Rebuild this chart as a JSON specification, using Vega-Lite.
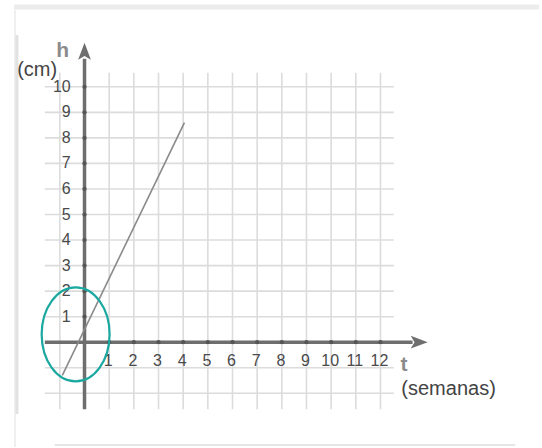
{
  "$schema": "https://vega.github.io/schema/vega-lite/v6.json",
  "width": 542,
  "height": 448,
  "padding": 0,
  "autosize": {"type": "fit", "contains": "padding"},
  "background": "white",
  "view": {"stroke": null},
  "config": {"font": "Liberation Sans"},
  "datasets": {
    "frame": [
      {"t": -2.86, "t2": 18.43, "h": 13.12, "h2": 13.12, "w": 5, "c": "#ececec"},
      {"t": -2.82, "t2": -2.82, "h": 13.0, "h2": -4.1, "w": 2, "c": "#efefef"},
      {"t": -2.74, "t2": -2.74, "h": 12.03, "h2": -2.81, "w": 3, "c": "#e2e2e2"},
      {"t": -1.21, "t2": 17.46, "h": -4.02, "h2": -4.02, "w": 2, "c": "#e6e6e6"}
    ],
    "vgrid": [
      {"t": -1, "h": -2.62, "h2": 10.55},
      {"t": 1, "h": -2.62, "h2": 10.55},
      {"t": 2, "h": -2.62, "h2": 10.55},
      {"t": 3, "h": -2.62, "h2": 10.55},
      {"t": 4, "h": -2.62, "h2": 10.55},
      {"t": 5, "h": -2.62, "h2": 10.55},
      {"t": 6, "h": -2.62, "h2": 10.55},
      {"t": 7, "h": -2.62, "h2": 10.55},
      {"t": 8, "h": -2.62, "h2": 10.55},
      {"t": 9, "h": -2.62, "h2": 10.55},
      {"t": 10, "h": -2.62, "h2": 10.55},
      {"t": 11, "h": -2.62, "h2": 10.55},
      {"t": 12, "h": -2.62, "h2": 10.55}
    ],
    "hgrid": [
      {"h": -2, "t": -1.61, "t2": 12.54},
      {"h": -1, "t": -1.61, "t2": 12.54},
      {"h": 1, "t": -1.61, "t2": 12.54},
      {"h": 2, "t": -1.61, "t2": 12.54},
      {"h": 3, "t": -1.61, "t2": 12.54},
      {"h": 4, "t": -1.61, "t2": 12.54},
      {"h": 5, "t": -1.61, "t2": 12.54},
      {"h": 6, "t": -1.61, "t2": 12.54},
      {"h": 7, "t": -1.61, "t2": 12.54},
      {"h": 8, "t": -1.61, "t2": 12.54},
      {"h": 9, "t": -1.61, "t2": 12.54},
      {"h": 10, "t": -1.61, "t2": 12.54}
    ],
    "axes": [
      {"t": -1.61, "t2": 13.3, "h": 0, "h2": 0},
      {"t": 0, "t2": 0, "h": -2.62, "h2": 11.1}
    ],
    "arrows": [
      {"t": 0, "h": 11.39, "a": 0},
      {"t": 13.57, "h": 0, "a": 90}
    ],
    "tickdots": [
      {"t": 1, "h": 0}, {"t": 2, "h": 0}, {"t": 3, "h": 0}, {"t": 4, "h": 0},
      {"t": 5, "h": 0}, {"t": 6, "h": 0}, {"t": 7, "h": 0}, {"t": 8, "h": 0},
      {"t": 9, "h": 0}, {"t": 10, "h": 0}, {"t": 11, "h": 0}, {"t": 12, "h": 0},
      {"t": 0, "h": 1}, {"t": 0, "h": 2}, {"t": 0, "h": 3}, {"t": 0, "h": 4},
      {"t": 0, "h": 5}, {"t": 0, "h": 6}, {"t": 0, "h": 7}, {"t": 0, "h": 8},
      {"t": 0, "h": 9}, {"t": 0, "h": 10}
    ],
    "xlabels": [
      {"t": 1, "h": -0.74, "label": "1"}, {"t": 2, "h": -0.74, "label": "2"},
      {"t": 3, "h": -0.74, "label": "3"}, {"t": 4, "h": -0.74, "label": "4"},
      {"t": 5, "h": -0.74, "label": "5"}, {"t": 6, "h": -0.74, "label": "6"},
      {"t": 7, "h": -0.74, "label": "7"}, {"t": 8, "h": -0.74, "label": "8"},
      {"t": 9, "h": -0.74, "label": "9"}, {"t": 10, "h": -0.74, "label": "10"},
      {"t": 11, "h": -0.74, "label": "11"}, {"t": 12, "h": -0.74, "label": "12"}
    ],
    "ylabels": [
      {"t": -0.56, "h": 1, "label": "1"}, {"t": -0.56, "h": 2, "label": "2"},
      {"t": -0.56, "h": 3, "label": "3"}, {"t": -0.56, "h": 4, "label": "4"},
      {"t": -0.56, "h": 5, "label": "5"}, {"t": -0.56, "h": 6, "label": "6"},
      {"t": -0.56, "h": 7, "label": "7"}, {"t": -0.56, "h": 8, "label": "8"},
      {"t": -0.56, "h": 9, "label": "9"}, {"t": -0.56, "h": 10, "label": "10"}
    ],
    "growth": [
      {"t": -0.9, "h": -1.3},
      {"t": 4.05, "h": 8.6}
    ],
    "highlight": [
      {"t": -0.36, "h": 0.31}
    ],
    "varnames": [
      {"t": -0.89, "h": 11.4, "label": "h"},
      {"t": 12.95, "h": -0.9, "label": "t"}
    ],
    "units": [
      {"t": -1.92, "h": 10.67, "label": "(cm)"},
      {"t": 14.76, "h": -1.84, "label": "(semanas)"}
    ]
  },
  "layer": [
    {
      "data": {"name": "frame"},
      "mark": {"type": "rule"},
      "encoding": {
        "x": {"field": "t", "type": "quantitative", "scale": {"domain": [-3.427, 18.427], "nice": false, "zero": false}, "axis": null},
        "x2": {"field": "t2"},
        "y": {"field": "h", "type": "quantitative", "scale": {"domain": [-4.102, 13.398], "nice": false, "zero": false}, "axis": null},
        "y2": {"field": "h2"},
        "color": {"field": "c", "type": "nominal", "scale": null, "legend": null},
        "strokeWidth": {"field": "w", "type": "quantitative", "scale": null, "legend": null}
      }
    },
    {
      "data": {"name": "vgrid"},
      "mark": {"type": "rule", "color": "#dcdcdc", "strokeWidth": 1.6},
      "encoding": {
        "x": {"field": "t", "type": "quantitative"},
        "y": {"field": "h", "type": "quantitative"},
        "y2": {"field": "h2"}
      }
    },
    {
      "data": {"name": "hgrid"},
      "mark": {"type": "rule", "color": "#dcdcdc", "strokeWidth": 1.6},
      "encoding": {
        "x": {"field": "t", "type": "quantitative"},
        "x2": {"field": "t2"},
        "y": {"field": "h", "type": "quantitative"}
      }
    },
    {
      "data": {"name": "axes"},
      "mark": {"type": "rule", "color": "#6e6e6e", "strokeWidth": 3.5},
      "encoding": {
        "x": {"field": "t", "type": "quantitative"},
        "x2": {"field": "t2"},
        "y": {"field": "h", "type": "quantitative"},
        "y2": {"field": "h2"}
      }
    },
    {
      "data": {"name": "tickdots"},
      "mark": {"type": "point", "shape": "circle", "filled": true, "color": "#555555", "size": 18, "opacity": 1},
      "encoding": {
        "x": {"field": "t", "type": "quantitative"},
        "y": {"field": "h", "type": "quantitative"}
      }
    },
    {
      "data": {"name": "arrows"},
      "mark": {"type": "point", "shape": "M0,-1L0.75,1L0,0.55L-0.75,1Z", "filled": true, "color": "#6e6e6e", "size": 289, "opacity": 1},
      "encoding": {
        "x": {"field": "t", "type": "quantitative"},
        "y": {"field": "h", "type": "quantitative"},
        "angle": {"field": "a", "type": "quantitative", "scale": null}
      }
    },
    {
      "data": {"name": "xlabels"},
      "mark": {"type": "text", "font": "Liberation Sans", "fontSize": 16, "color": "#4a4a4a", "align": "center", "baseline": "middle", "dx": -1},
      "encoding": {
        "x": {"field": "t", "type": "quantitative"},
        "y": {"field": "h", "type": "quantitative"},
        "text": {"field": "label", "type": "nominal"}
      }
    },
    {
      "data": {"name": "ylabels"},
      "mark": {"type": "text", "font": "Liberation Sans", "fontSize": 16, "color": "#4a4a4a", "align": "right", "baseline": "middle"},
      "encoding": {
        "x": {"field": "t", "type": "quantitative"},
        "y": {"field": "h", "type": "quantitative"},
        "text": {"field": "label", "type": "nominal"}
      }
    },
    {
      "data": {"name": "growth"},
      "mark": {"type": "line", "color": "#8a8a8a", "strokeWidth": 1.6},
      "encoding": {
        "x": {"field": "t", "type": "quantitative"},
        "y": {"field": "h", "type": "quantitative"}
      }
    },
    {
      "data": {"name": "highlight"},
      "mark": {"type": "point", "shape": "M-0.723,0A0.723,1 0 1,1 0.723,0A0.723,1 0 1,1 -0.723,0Z", "filled": false, "stroke": "#1aa8a0", "strokeWidth": 2.2, "size": 8836, "opacity": 1},
      "encoding": {
        "x": {"field": "t", "type": "quantitative"},
        "y": {"field": "h", "type": "quantitative"}
      }
    },
    {
      "data": {"name": "varnames"},
      "mark": {"type": "text", "font": "Liberation Sans", "fontSize": 21, "fontWeight": "bold", "color": "#8c8c8c", "align": "center", "baseline": "middle"},
      "encoding": {
        "x": {"field": "t", "type": "quantitative"},
        "y": {"field": "h", "type": "quantitative"},
        "text": {"field": "label", "type": "nominal"}
      }
    },
    {
      "data": {"name": "units"},
      "mark": {"type": "text", "font": "Liberation Sans", "fontSize": 20, "color": "#444444", "align": "center", "baseline": "middle"},
      "encoding": {
        "x": {"field": "t", "type": "quantitative"},
        "y": {"field": "h", "type": "quantitative"},
        "text": {"field": "label", "type": "nominal"}
      }
    }
  ]
}
